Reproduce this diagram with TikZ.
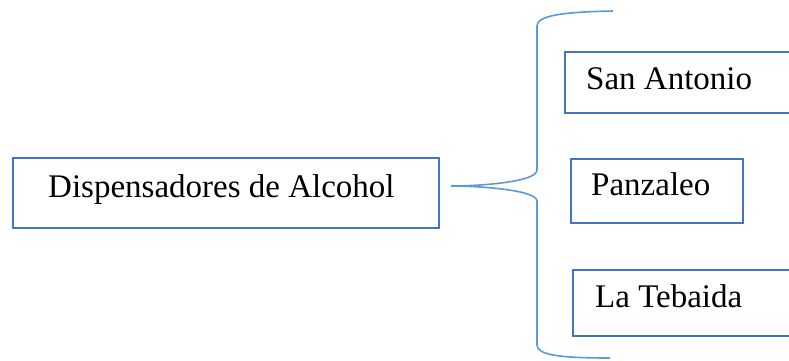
\documentclass[tikz,border=0pt]{standalone}
\usepackage{fontspec}
\setmainfont{Liberation Serif}
\definecolor{boxblue}{RGB}{68,114,196}
\definecolor{braceblue}{RGB}{91,155,213}
\begin{document}
\begin{tikzpicture}[x=1pt,y=-1pt,
  box/.style={draw=boxblue,line width=1.6pt,rectangle,inner sep=0pt,anchor=north west},
  lbl/.style={anchor=base west,inner sep=0pt,font=\rmfamily\fontsize{33}{36}\selectfont}]
\useasboundingbox (0,0) rectangle (789,360);
\clip (0,0) rectangle (789,360);
\node[box,minimum width=426pt,minimum height=70pt] (main) at (12,157) {};
\node[lbl] (maint) at (48,197) {Dispensadores de Alcohol};
\node[box,minimum width=240pt,minimum height=61pt] (sa) at (564,51) {};
\node[lbl] (sat) at (586,89) {San Antonio};
\node[box,minimum width=172pt,minimum height=64pt] (pz) at (570,158) {};
\node[lbl] (pzt) at (591,195) {Panzaleo};
\node[box,minimum width=240pt,minimum height=66pt] (lt) at (572,269) {};
\node[lbl] (ltt) at (595,307) {La Tebaida};
\coordinate (tip) at (451,186);
\draw[braceblue,line width=1.6pt]
  (613,11) .. controls (560,12) and (537,16) .. (537,26) -- (537,170)
  .. controls (537,182) and (480,186) .. (tip)
  .. controls (480,186) and (537,190) .. (537,201) -- (537,345)
  .. controls (537,355) and (560,358) .. (610,358);
\end{tikzpicture}
\end{document}
